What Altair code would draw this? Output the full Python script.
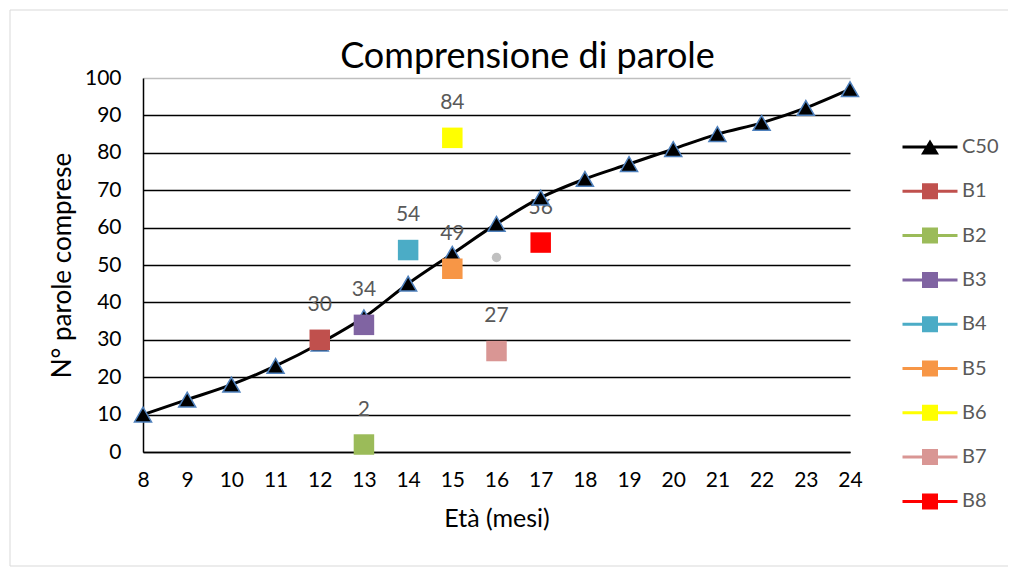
import altair as alt
import pandas as pd

# C50 reference curve
eta = [8, 9, 10, 11, 12, 13, 14, 15, 16, 17, 18, 19, 20, 21, 22, 23, 24]
c50 = [10, 14, 18, 23, 29, 36, 45, 53, 61, 68, 73, 77, 81, 85, 88, 92, 97]

# individual children
b_names = ["B1", "B2", "B3", "B4", "B5", "B6", "B7", "B8"]
b_eta = [12, 13, 13, 14, 15, 15, 16, 17]
b_val = [30, 2, 34, 54, 49, 84, 27, 56]

# faint grey point visible in the picture
g_eta = [16]
g_val = [52]

series = ["C50"] + b_names
colors = ["#000000", "#C0504D", "#9BBB59", "#8064A2", "#4BACC6",
          "#F79646", "#FFFF00", "#D99694", "#FF0000"]

df_c = pd.DataFrame({"eta": eta, "val": c50, "serie": "C50"})
df_b = pd.DataFrame({"eta": b_eta, "val": b_val, "serie": b_names})
df_g = pd.DataFrame({"eta": g_eta, "val": g_val})

FONT = "Lato"
W, H = 707, 374

xs = alt.X("eta:Q", scale=alt.Scale(domain=[8, 24], nice=False, zero=False),
           axis=alt.Axis(title="Età (mesi)", values=eta, format="d", grid=False,
                         ticks=False, domainColor="black", domainWidth=1.5,
                         labelFlush=False, labelOverlap=False,
                         labelFontSize=21, labelColor="black", labelPadding=17,
                         titleFontSize=25, titleColor="black", titleFontWeight="normal",
                         titlePadding=16, labelFont=FONT, titleFont=FONT))
ys = alt.Y("val:Q", scale=alt.Scale(domain=[0, 100], nice=False),
           axis=alt.Axis(title="N° parole comprese", values=list(range(0, 101, 10)),
                         grid=True,
                         gridColor=alt.condition("datum.value == 100", alt.value("#BFBFBF"), alt.value("black")),
                         gridWidth=1.5, ticks=False, domainColor="black", domainWidth=1.5,
                         labelFlush=False, labelOverlap=False,
                         labelFontSize=21, labelColor="black", labelPadding=22,
                         titleFontSize=26, titleColor="black", titleFontWeight="normal",
                         titlePadding=9, labelFont=FONT, titleFont=FONT))

line_path = "M-2.75,-0.15H2.75V0.15H-2.75Z"
sym_expr = ("datum.value == 'C50' ? '" + line_path + " M0,-0.75L0.9,0.75H-0.9Z' : '"
            + line_path + " M-0.8,-0.8H0.8V0.8H-0.8Z'")

color = alt.Color("serie:N", scale=alt.Scale(domain=series, range=colors),
                  legend=alt.Legend(title=None, orient="none", legendX=777, legendY=59,
                                    symbolType={"expr": sym_expr}, symbolSize=400,
                                    symbolStrokeWidth=0, symbolOpacity=1,
                                    labelFontSize=20, labelColor="#595959", labelFont=FONT,
                                    labelOffset=22, rowPadding=24.3, padding=0))

frame = alt.Chart(df_g).mark_rect(fill=None, stroke="#D9D9D9", strokeWidth=1).encode(
    x=alt.value(-133), x2=alt.value(867), y=alt.value(-68), y2=alt.value(488))

labels = alt.Chart(df_b).mark_text(dy=-35, fontSize=21, color="#595959", font=FONT).encode(
    x=xs, y=ys, text="val:Q")

line = alt.Chart(df_c).mark_line(color="black", strokeWidth=3, interpolate="monotone").encode(
    x=xs, y=ys)

tri = alt.Chart(df_c).mark_point(shape="triangle-up", filled=True, size=290, opacity=1,
                                  stroke="#4F81BD", strokeWidth=1.5).encode(
    x=xs, y=ys, color=color)

grey = alt.Chart(df_g).mark_circle(size=90, color="#8C8C8C", opacity=0.55).encode(x=xs, y=ys)

squares = alt.Chart(df_b).mark_square(size=420, opacity=1).encode(x=xs, y=ys, color=color)

chart = alt.layer(frame, labels, line, tri, grey, squares).properties(
    width=W, height=H,
    title=alt.TitleParams("Comprensione di parole", fontSize=36, font=FONT, color="black",
                          fontWeight="normal", anchor="middle", dx=31, offset=-66),
    autosize=alt.AutoSizeParams(type="none"),
    padding={"left": 135, "top": 70, "right": 158, "bottom": 116},
).configure_view(stroke=None)

chart.save("out.html", embed_options={"renderer": "svg", "actions": False})
